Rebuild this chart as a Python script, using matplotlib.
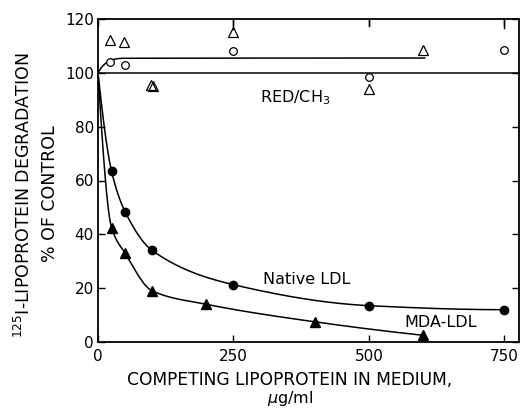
import numpy as np
import matplotlib
matplotlib.use("Agg")
import matplotlib.pyplot as plt

plt.rcParams['font.family'] = ['DejaVu Sans']
plt.rcParams['mathtext.fontset'] = 'dejavusans'

# Native LDL competition (filled circles)
native_x = [25, 50, 100, 250, 500, 750]
native_y = [63.5, 48.4, 34.0, 21.3, 13.5, 12.0]

# MDA-LDL competition (filled triangles)
mda_x = [25, 50, 100, 200, 400, 600]
mda_y = [42.5, 33.0, 19.0, 14.0, 7.5, 2.5]

# Reduced / methylated LDL (open symbols)
red_circ_x = [22, 50, 250, 500, 750]
red_circ_y = [104.2, 103.0, 108.2, 98.3, 108.5]
red_tri_x = [22, 48, 98, 101, 250, 500, 600]
red_tri_y = [112.3, 111.4, 95.5, 95.0, 115.0, 94.0, 108.5]

# Fitted plateau for the open symbols
plateau_x = [0, 12, 25, 45, 603]
plateau_y = [100, 103.2, 104.8, 105.4, 105.5]

# Control level
control_level = 100

# Error-bar stubs reaching above the top of the scale
err_x = [250, 500, 750]
err_low = [116.3, 117.5, 116.7]

x_ticks = [0, 250, 500, 750]
y_ticks = [0, 20, 40, 60, 80, 100, 120]


def pchip(x, y, xs):
    x = np.asarray(x, float)
    y = np.asarray(y, float)
    h = np.diff(x)
    d = np.diff(y) / h
    n = len(x)
    m = np.zeros(n)
    for k in range(1, n - 1):
        if d[k - 1] * d[k] > 0:
            w1 = 2 * h[k] + h[k - 1]
            w2 = h[k] + 2 * h[k - 1]
            m[k] = (w1 + w2) / (w1 / d[k - 1] + w2 / d[k])

    def end(h0, h1, d0, d1):
        s = ((2 * h0 + h1) * d0 - h0 * d1) / (h0 + h1)
        if np.sign(s) != np.sign(d0):
            s = 0.0
        elif np.sign(d0) != np.sign(d1) and abs(s) > abs(3 * d0):
            s = 3 * d0
        return s

    m[0] = end(h[0], h[1], d[0], d[1])
    m[-1] = end(h[-1], h[-2], d[-1], d[-2])
    xs = np.asarray(xs, float)
    idx = np.clip(np.searchsorted(x, xs) - 1, 0, n - 2)
    t = (xs - x[idx]) / h[idx]
    h00 = 2 * t**3 - 3 * t**2 + 1
    h10 = t**3 - 2 * t**2 + t
    h01 = -2 * t**3 + 3 * t**2
    h11 = t**3 - t**2
    return (h00 * y[idx] + h10 * h[idx] * m[idx]
            + h01 * y[idx + 1] + h11 * h[idx] * m[idx + 1])


W, H = 524, 412
fig = plt.figure(figsize=(W / 100, H / 100), dpi=100)
ax = fig.add_axes([98 / W, (H - 342) / H, (519 - 98) / W, (342 - 19) / H])

lw = 1.1
# smooth curves, anchored at 100 % at zero competitor
nx = [0] + native_x
ny = [control_level] + native_y
xs = np.linspace(0, native_x[-1], 600)
ax.plot(xs, pchip(nx, ny, xs), color='black', lw=lw)

mx = [0] + mda_x
my = [control_level] + mda_y
xs = np.linspace(0, mda_x[-1], 600)
ax.plot(xs, pchip(mx, my, xs), color='black', lw=lw)

xs = np.linspace(0, plateau_x[-1], 600)
ax.plot(xs, pchip(plateau_x, plateau_y, xs), color='black', lw=lw)

ax.axhline(control_level, color='black', lw=lw)

ax.plot(native_x, native_y, 'o', color='black', ms=6, clip_on=False)
ax.plot(mda_x, mda_y, '^', color='black', ms=6.5, clip_on=False)
ax.plot(red_circ_x, red_circ_y, 'o', mfc='white', mec='black', mew=0.9,
        ms=5.5, clip_on=False)
ax.plot(red_tri_x, red_tri_y, '^', mfc='none', mec='black', mew=0.9,
        ms=7, clip_on=False)

for ex, el in zip(err_x, err_low):
    ax.plot([ex, ex], [el, 120], color='black', lw=1.0, clip_on=False)

ax.text(299, 90.7, 'RED/CH$_3$', fontsize=11.5, va='center', ha='left')
ax.text(304, 23.2, 'Native LDL', fontsize=11.5, va='center', ha='left')
ax.text(566, 7.3, 'MDA-LDL', fontsize=11.5, va='center', ha='left')

ax.set_xlim(0, 777)
ax.set_ylim(0, 120)
ax.set_xticks(x_ticks)
ax.set_yticks(y_ticks)
ax.tick_params(direction='in', length=5, width=1.0, labelsize=11,
               top=True, right=True)
ax.tick_params(axis='y', pad=3)
ax.tick_params(axis='x', pad=5)
for s in ax.spines.values():
    s.set_linewidth(1.3)

fig.text(290 / W, 1 - 380 / H, 'COMPETING LIPOPROTEIN IN MEDIUM,',
         fontsize=12.3, ha='center', va='center')
fig.text(290 / W, 1 - 399 / H, '$\\mu$g/ml',
         fontsize=11.5, ha='center', va='center')
fig.text(24 / W, 1 - 195 / H, '$^{125}$I-LIPOPROTEIN DEGRADATION',
         rotation=90, fontsize=12.5, ha='center', va='center')
fig.text(50 / W, 1 - 194 / H, '% OF CONTROL',
         rotation=90, fontsize=12.5, ha='center', va='center')

fig.savefig('out.png', dpi=100)
